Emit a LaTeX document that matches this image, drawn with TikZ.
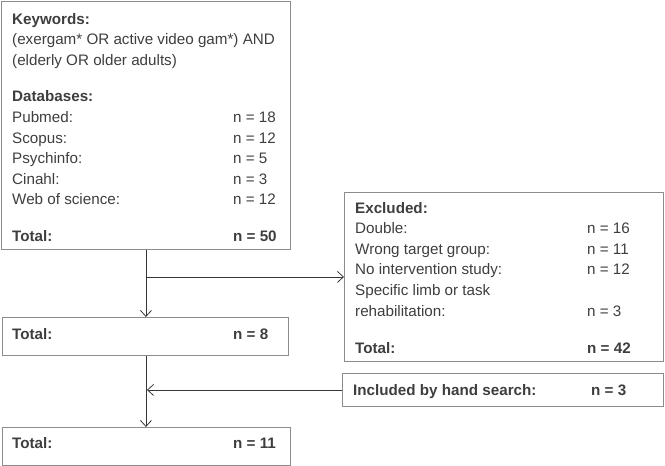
\documentclass[tikz,border=0pt]{standalone}
\usepackage{fontspec}
\setmainfont{Liberation Sans}
\usepackage{array}
\usetikzlibrary{arrows.meta,positioning}
\definecolor{textgray}{RGB}{62,62,62}
\definecolor{framegray}{RGB}{140,140,140}
\definecolor{arrowgray}{RGB}{55,55,55}

\begin{document}
\begin{tikzpicture}[x=1pt,y=-1pt,
  box/.style={draw=framegray,line width=0.9pt,inner sep=0pt,anchor=north west},
  txt/.style={anchor=base west,inner sep=0pt,text=textgray,font=\fontsize{15.2}{20.6}\selectfont},
  flow/.style={arrowgray,line width=0.8pt,-{Straight Barb[length=6pt,width=11pt]}}]
  \useasboundingbox (0,0) rectangle (665,466);
  % boxes
  \node[box,minimum width=289pt,minimum height=248pt] (search) at (1,1) {};
  \node[box,minimum width=286pt,minimum height=38pt] (screened) at (2,317) {};
  \node[box,minimum width=288pt,minimum height=38pt] (final) at (2,427) {};
  \node[box,minimum width=319pt,minimum height=169pt] (excluded) at (344,192) {};
  \node[box,minimum width=321pt,minimum height=33pt] (hand) at (342,373) {};
  % texts
  \node[txt,xshift=11pt,yshift=-23pt] (searchtxt) at (search.north west) {%
    \begin{tabular}[t]{@{}p{221pt}@{}l@{}}
      \textbf{Keywords:} & \\
      \multicolumn{2}{@{}l@{}}{(exergam* OR active video gam*) AND} \\
      (elderly OR older adults) & \\[16pt]
      \textbf{Databases:} & \\
      Pubmed: & n = 18 \\
      Scopus: & n = 12 \\
      Psychinfo: & n = 5 \\
      Cinahl: & n = 3 \\
      Web of science: & n = 12 \\[16pt]
      \textbf{Total:} & \textbf{n = 50}
    \end{tabular}};
  \node[txt,xshift=11pt,yshift=-21pt] (excludedtxt) at (excluded.north west) {%
    \begin{tabular}[t]{@{}p{232pt}@{}l@{}}
      \textbf{Excluded:} & \\
      Double: & n = 16 \\
      Wrong target group: & n = 11 \\
      No intervention study: & n = 12 \\
      Specific limb or task & \\
      rehabilitation: & n = 3 \\[17pt]
      \textbf{Total:} & \textbf{n = 42}
    \end{tabular}};
  \node[txt,xshift=10pt,yshift=-22pt] (screenedtxt) at (screened.north west) {%
    \begin{tabular}[t]{@{}p{221pt}@{}l@{}}
      \textbf{Total:} & \textbf{n = 8}
    \end{tabular}};
  \node[txt,xshift=10pt,yshift=-21pt] (finaltxt) at (final.north west) {%
    \begin{tabular}[t]{@{}p{221pt}@{}l@{}}
      \textbf{Total:} & \textbf{n = 11}
    \end{tabular}};
  \node[txt,xshift=11pt,yshift=-22pt] (handtxt) at (hand.north west) {%
    \begin{tabular}[t]{@{}p{238pt}@{}l@{}}
      \textbf{Included by hand search:} & \textbf{n = 3}
    \end{tabular}};
  % connectors
  \coordinate (branch) at (search.south |- excluded.west);
  \coordinate (join) at ([xshift=1pt]search.south |- hand.west);
  \draw[flow] (search.south) -- (search.south |- screened.north);
  \draw[flow] (branch) -- (excluded.west);
  \draw[flow] (search.south |- screened.south) -- (search.south |- final.north);
  \draw[flow] (hand.west) -- (join);
\end{tikzpicture}
\end{document}
